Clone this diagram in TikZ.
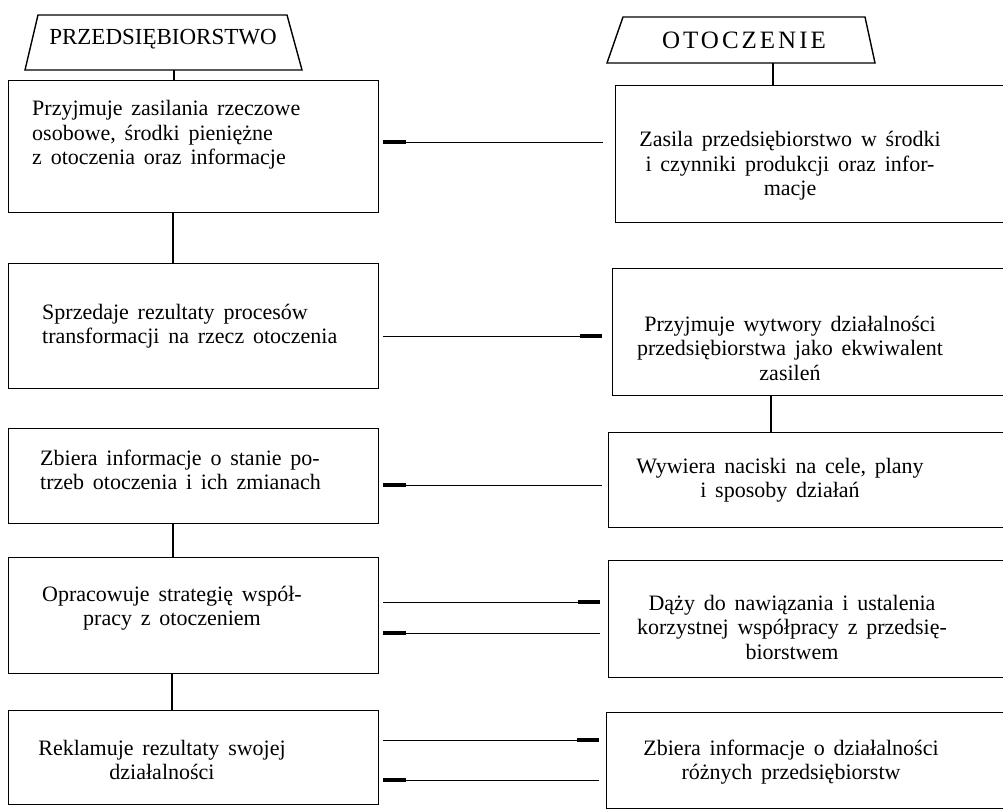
\documentclass[tikz,border=0pt]{standalone}
\usepackage{fontspec}
\setmainfont{Liberation Serif}
\newfontfamily\bodyfam[WordSpace=1.6]{Liberation Serif}
\usetikzlibrary{arrows.meta}
\newcommand\bodyfnt{\bodyfam\fontsize{22}{24.5}\selectfont}
\newcommand\headfnt{\fontsize{23}{26}\selectfont}
\newcommand\headfntb{\fontsize{25}{26}\selectfont\addfontfeatures{LetterSpace=12}}
\tikzset{
  box/.style={draw, line width=1.4pt, rectangle, inner sep=0pt, anchor=north west},
  txt/.style={inner sep=0pt, font=\bodyfnt},
  headline/.style={draw, line width=1.4pt, line join=miter},
  conn/.style={line width=0.8pt},
  vconn/.style={line width=1.2pt},
  totip/.style={-{Rectangle[length=22pt,width=3.5pt]}}
}
\begin{document}
\begin{tikzpicture}[x=1pt,y=-1pt]
\useasboundingbox[fill=white] (0,0) rectangle (1003,811);
% headers
\coordinate (hLtl) at (38,15);
\coordinate (hLtr) at (287,15);
\coordinate (hLbr) at (302,70);
\coordinate (hLbl) at (25,70);
\draw[headline] (hLbl) -- (hLtl) -- (hLtr) -- (hLbr) -- cycle;
\node[inner sep=0pt, font=\headfnt] (hL) at (163,39) {PRZEDSIĘBIORSTWO};
\coordinate (hRtl) at (623,17);
\coordinate (hRtr) at (865,17);
\coordinate (hRbr) at (875,63);
\coordinate (hRbl) at (607,63);
\draw[headline] (hRbl) -- (hRtl) -- (hRtr) -- (hRbr) -- cycle;
\node[inner sep=0pt, font=\headfntb] (hR) at (744,40) {OTOCZENIE};
% left boxes
\node[box, minimum width=370pt, minimum height=132pt] (L1) at (8,80) {};
\node[box, minimum width=370pt, minimum height=125pt] (L2) at (8,263) {};
\node[box, minimum width=370pt, minimum height=95pt] (L3) at (8,428) {};
\node[box, minimum width=370pt, minimum height=116pt] (L4) at (8,557) {};
\node[box, minimum width=370pt, minimum height=94pt] (L5) at (8,710) {};
% right boxes
\node[box, minimum width=400pt, minimum height=137pt] (R1) at (615,85) {};
\node[box, minimum width=403pt, minimum height=127pt] (R2) at (612,268) {};
\node[box, minimum width=407pt, minimum height=95pt] (R3) at (608,432) {};
\node[box, minimum width=407pt, minimum height=117pt] (R4) at (608,560) {};
\node[box, minimum width=409pt, minimum height=96pt] (R5) at (606,712) {};
% texts left
\node[txt, anchor=west, align=left] (tL1) at (32,135) {Przyjmuje zasilania rzeczowe\\osobowe, środki pieniężne\\z otoczenia oraz informacje};
\node[txt, anchor=west, align=left] (tL2) at (42,326) {Sprzedaje rezultaty procesów\\transformacji na rzecz otoczenia};
\node[txt, anchor=west, align=left] (tL3) at (40,470) {Zbiera informacje o stanie po-\\trzeb otoczenia i ich zmianach};
\node[txt, align=center] (tL4) at (172,608) {Opracowuje strategię współ-\\pracy z otoczeniem};
\node[txt, align=center] (tL5) at (162,760) {Reklamuje rezultaty swojej\\działalności};
% texts right
\node[txt, align=center] (tR1) at (790,166) {Zasila przedsiębiorstwo w środki\\i czynniki produkcji oraz infor-\\macje};
\node[txt, align=center] (tR2) at (790,348) {Przyjmuje wytwory działalności\\przedsiębiorstwa jako ekwiwalent\\zasileń};
\node[txt, align=center] (tR3) at (780,480) {Wywiera naciski na cele, plany\\i sposoby działań};
\node[txt, align=center] (tR4) at (792,627) {Dąży do nawiązania i ustalenia\\korzystnej współpracy z przedsię-\\biorstwem};
\node[txt, align=center] (tR5) at (791,762) {Zbiera informacje o działalności\\różnych przedsiębiorstw};
% header connectors
\draw[vconn] (hLbl -| 174,0) -- (L1.north -| 174,0);
\draw[vconn] (hRbl -| 773,0) -- (R1.north -| 773,0);
% vertical connectors
\draw[vconn] (L1.south -| 173,0) -- (L2.north -| 173,0);
\draw[vconn] (L3.south -| 173,0) -- (L4.north -| 173,0);
\draw[vconn] (L4.south -| 172,0) -- (L5.north -| 172,0);
\draw[vconn] (R2.south -| 771,0) -- (R3.north -| 771,0);
% horizontal connectors
\draw[conn, totip, shorten <=12pt, shorten >=4pt] (R1.west |- 0,142) -- (L1.east |- 0,142);
\draw[conn, totip, shorten <=4pt, shorten >=10pt] (L2.east |- 0,336) -- (R2.west |- 0,336);
\draw[conn, totip, shorten <=6pt, shorten >=4pt] (R3.west |- 0,485) -- (L3.east |- 0,485);
\draw[conn, totip, shorten <=4pt, shorten >=8pt] (L4.east |- 0,602) -- (R4.west |- 0,602);
\draw[conn, totip, shorten <=8pt, shorten >=4pt] (R4.west |- 0,633) -- (L4.east |- 0,633);
\draw[conn, totip, shorten <=4pt, shorten >=7pt] (L5.east |- 0,740) -- (R5.west |- 0,740);
\draw[conn, totip, shorten <=7pt, shorten >=4pt] (R5.west |- 0,780) -- (L5.east |- 0,780);
\end{tikzpicture}
\end{document}
